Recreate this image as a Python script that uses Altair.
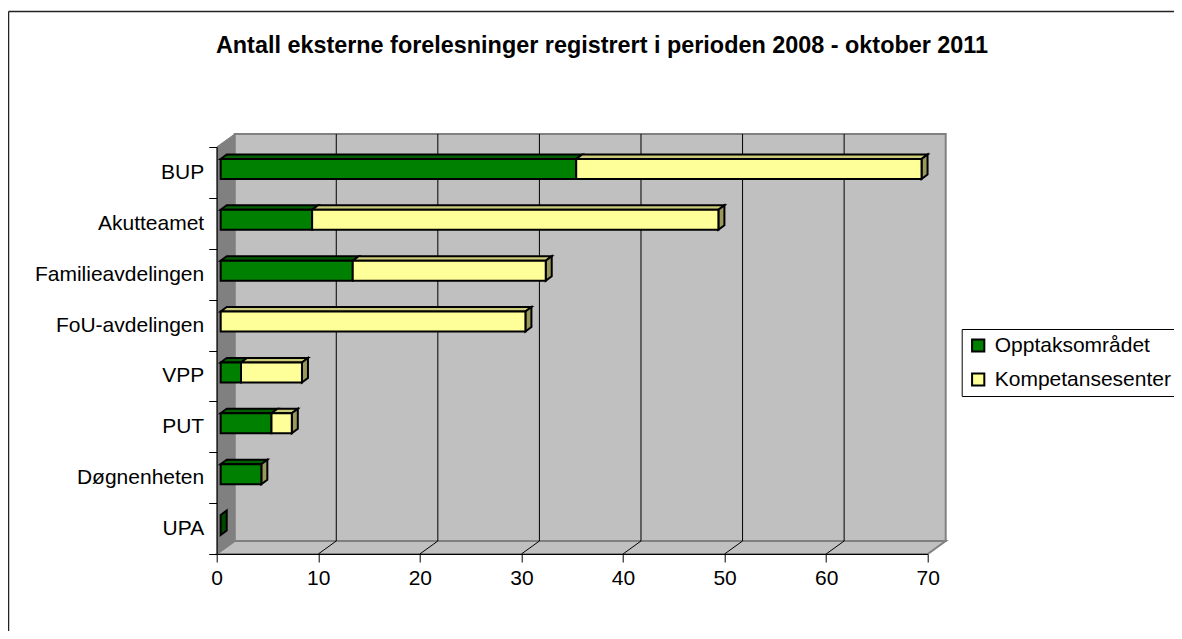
import json
import altair as alt
import pandas as pd

# ---------------- data ----------------
categories = ["BUP", "Akutteamet", "Familieavdelingen", "FoU-avdelingen",
              "VPP", "PUT", "Døgnenheten", "UPA"]
opptak = [35, 9, 13, 0, 2, 5, 4, 0]
kompetanse = [34, 40, 19, 30, 6, 2, 0, None]
series_names = ["Opptaksområdet", "Kompetansesenter"]
x_ticks = [0, 10, 20, 30, 40, 50, 60, 70]
grid_values = [10, 20, 30, 40, 50, 60]
title_text = "Antall eksterne forelesninger registrert i perioden 2008 - oktober 2011"

# ---------------- style ----------------
front_colors = ["#008000", "#FFFF99"]
top_colors = ["#005F00", "#CCCC7A"]
side_colors = ["#004A00", "#99995C"]
FONT = "Liberation Sans"

W, H = 711, 407
XMAX = 70
N = len(categories)
PXX = W / XMAX
PXY = H / N

# 3-D depth geometry (pixel sizes converted into data units)
WALL_DX = 18 / PXX
WALL_DY = 13 / PXY
BAR_OX = 4 / PXX
BAR_OY = 3.5 / PXY
BAR_DX = 6 / PXX
BAR_DY = 4.5 / PXY
BAR_HALF = 10 / PXY

front_rows, top_rows, side_rows = [], [], []
for k, cat in enumerate(categories):
    idx = N - 1 - k
    yc = idx + 0.5 + BAR_OY
    yb, yt = yc - BAR_HALF, yc + BAR_HALF
    start = 0
    last_series = series_names[0]
    for s_name, vals in zip(series_names, [opptak, kompetanse]):
        v = vals[k]
        if v is None:
            continue
        last_series = s_name
        if v <= 0:
            continue
        x0, x1 = start + BAR_OX, start + v + BAR_OX
        front_rows.append(dict(cat=cat, series=s_name, x=x0, x2=x1, y=yb, y2=yt))
        sid = f"{cat}-{s_name}"
        top_rows.append(dict(id=sid, series=s_name, y=yt, x=x0, x2=x1))
        top_rows.append(dict(id=sid, series=s_name, y=yt + BAR_DY,
                             x=x0 + BAR_DX, x2=x1 + BAR_DX))
        start += v
    xe = start + BAR_OX
    side_rows.append(dict(id=cat, series=last_series, x=xe, y=yb, y2=yt))
    side_rows.append(dict(id=cat, series=last_series, x=xe + BAR_DX,
                          y=yb + BAR_DY, y2=yt + BAR_DY))

df_front = pd.DataFrame(front_rows)
df_top = pd.DataFrame(top_rows)
df_side = pd.DataFrame(side_rows)

df_back = pd.DataFrame([dict(x=WALL_DX, x2=XMAX + WALL_DX, y=WALL_DY, y2=N + WALL_DY)])
df_left = pd.DataFrame([dict(id="w", x=0, y=0, y2=N),
                        dict(id="w", x=WALL_DX, y=WALL_DY, y2=N + WALL_DY)])
df_floor = pd.DataFrame([dict(id="f", y=0, x=0, x2=XMAX),
                         dict(id="f", y=WALL_DY, x=WALL_DX, x2=XMAX + WALL_DX)])
df_grid = pd.DataFrame([dict(x=g + WALL_DX, y=WALL_DY, y2=N + WALL_DY) for g in grid_values])
df_diag = pd.DataFrame([dict(x=g, x2=g + WALL_DX, y=0, y2=WALL_DY) for g in grid_values])
df_title = pd.DataFrame({"t": [title_text]})
df_one = pd.DataFrame({"a": [0]})

# ---------------- scales & axes ----------------
xs = alt.Scale(domain=[0, XMAX], nice=False, zero=False)
ys = alt.Scale(domain=[0, N], nice=False, zero=False)

names_bottom_up = categories[::-1]
label_expr = json.dumps(names_bottom_up, ensure_ascii=False) + "[datum.value] || ''"

x_axis = alt.Axis(values=x_ticks, title=None, grid=False, tickSize=8,
                  tickColor="black", domainColor="black", domainWidth=1,
                  labelFont=FONT, labelFontSize=21, labelColor="black",
                  labelPadding=5, labelFlush=False, labelOverlap=False, zindex=1)
y_axis = alt.Axis(values=list(range(N + 1)), title=None, grid=False, tickSize=8,
                  tickColor="black", domainColor="black", domainWidth=1,
                  labelFont=FONT, labelFontSize=21, labelColor="black",
                  labelPadding=5, labelFlush=False, labelOverlap=False,
                  labelExpr=label_expr, labelOffset=-PXY / 2, zindex=1)


def X(f):
    return alt.X(f, type="quantitative", scale=xs, axis=x_axis, stack=None)


def Y(f):
    return alt.Y(f, type="quantitative", scale=ys, axis=y_axis, stack=None)


# ---------------- layers ----------------
border_top = alt.Chart(df_one).mark_rule(color="#222222", strokeWidth=1.5).encode(
    x=alt.value(-208.2), x2=alt.value(960), y=alt.value(-135.5))
border_left = alt.Chart(df_one).mark_rule(color="#222222", strokeWidth=1.5).encode(
    x=alt.value(-208.2), y=alt.value(-135.5), y2=alt.value(490))

title = alt.Chart(df_title).mark_text(
    font=FONT, fontSize=23.4, fontWeight="bold", color="black",
    align="center", baseline="alphabetic"
).encode(text="t:N", x=alt.value(385.3), y=alt.value(-94.3))

back = alt.Chart(df_back).mark_rect(fill="#C0C0C0", stroke="#808080", strokeWidth=2).encode(
    x=X("x"), x2=alt.X2("x2"), y=Y("y"), y2=alt.Y2("y2"))

left_wall = alt.Chart(df_left).mark_area(orient="vertical", fill="#808080",
                                         stroke="#808080", strokeWidth=1).encode(
    x=X("x"), y=Y("y"), y2=alt.Y2("y2"), detail="id:N")

floor = alt.Chart(df_floor).mark_area(orient="horizontal", fill="#C0C0C0",
                                      stroke="#808080", strokeWidth=2).encode(
    y=Y("y"), x=X("x"), x2=alt.X2("x2"), detail="id:N")

grid = alt.Chart(df_grid).mark_rule(color="black", strokeWidth=1).encode(
    x=X("x"), y=Y("y"), y2=alt.Y2("y2"))

diag = alt.Chart(df_diag).mark_rule(color="black", strokeWidth=1).encode(
    x=X("x"), x2=alt.X2("x2"), y=Y("y"), y2=alt.Y2("y2"))

tops = alt.Chart(df_top).mark_area(orient="horizontal", stroke="black",
                                   strokeWidth=2, strokeJoin="miter").encode(
    y=Y("y"), x=X("x"), x2=alt.X2("x2"), detail="id:N",
    fill=alt.Fill("series:N", scale=alt.Scale(domain=series_names, range=top_colors),
                  legend=None))

sides = alt.Chart(df_side).mark_area(orient="vertical", stroke="black",
                                     strokeWidth=2, strokeJoin="miter").encode(
    x=X("x"), y=Y("y"), y2=alt.Y2("y2"), detail="id:N",
    fill=alt.Fill("series:N", scale=alt.Scale(domain=series_names, range=side_colors),
                  legend=None))

fronts = alt.Chart(df_front).mark_rect(stroke="black", strokeWidth=2).encode(
    x=X("x"), x2=alt.X2("x2"), y=Y("y"), y2=alt.Y2("y2"),
    color=alt.Color("series:N",
                    scale=alt.Scale(domain=series_names, range=front_colors),
                    legend=alt.Legend(orient="none", legendX=745, legendY=182,
                                      title=None, symbolType="square",
                                      symbolSize=150, symbolStrokeColor="black",
                                      symbolStrokeWidth=2, labelFont=FONT,
                                      labelFontSize=21, labelColor="black",
                                      labelLimit=400, labelOffset=6,
                                      strokeColor="black", fillColor="white",
                                      padding=6, rowPadding=12)))

chart = alt.layer(border_top, border_left, title, back, left_wall, floor, grid, diag,
                  tops, sides, fronts).resolve_scale(
    fill="independent", color="independent"
).properties(
    width=W, height=H,
    autosize=alt.AutoSizeParams(type="none"),
    padding={"left": 208.7, "top": 139, "right": 246.3, "bottom": 77},
    background="white",
).configure_view(strokeWidth=0)

chart.save("out.html", embed_options={"renderer": "svg", "actions": False})
